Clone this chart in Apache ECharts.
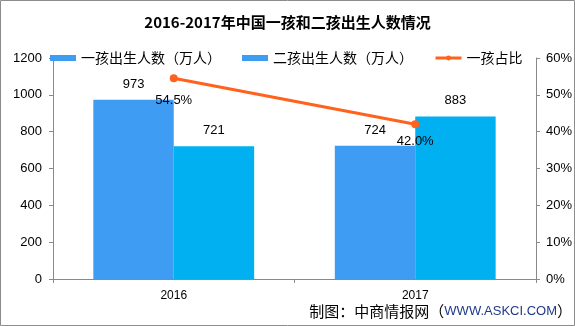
<!DOCTYPE html>
<html>
<head>
<meta charset="utf-8">
<script src="https://cdn.jsdelivr.net/npm/echarts@6/dist/echarts.min.js"></script>
<style>html,body{margin:0;padding:0;background:#fff}#c{width:575px;height:326px}</style>
</head>
<body>
<div id="c"></div>
<script>
const categories = ['2016', '2017'];
const firstChild = [973, 724];
const secondChild = [721, 883];
const firstShare = [54.5, 42.0];
const leftTicks = [0, 200, 400, 600, 800, 1000, 1200];
const rightTicks = [0, 10, 20, 30, 40, 50, 60];

const FONT = '"Liberation Sans", "Noto Sans CJK SC", sans-serif';
const CJK = '"Noto Sans CJK SC", sans-serif';
const C1 = '#3e9df2', C2 = '#00b0f0', C3 = '#ff621d';
const shareLabelDist = [12, 7];

const chart = echarts.init(document.getElementById('c'));
chart.setOption({
  animation: false,
  title: {
    text: '2016-2017年中国一孩和二孩出生人数情况',
    left: 'center', top: 10,
    textStyle: { fontFamily: CJK, fontSize: 15, fontWeight: 'bold', color: '#000' }
  },
  legend: {
    left: 45, top: 46,
    itemWidth: 26, itemHeight: 6, itemGap: 21,
    textStyle: { fontFamily: CJK, fontSize: 14, color: '#000' },
    data: [
      { name: '一孩出生人数（万人）', icon: 'rect', itemStyle: { color: C1 } },
      { name: '二孩出生人数（万人）', icon: 'rect', itemStyle: { color: C1 } },
      { name: '一孩占比', lineStyle: { width: 3, color: C3 }, itemStyle: { color: C3 } }
    ]
  },
  grid: { left: 53, right: 35, top: 58, bottom: 47 },
  xAxis: {
    type: 'category', data: categories,
    axisLine: { lineStyle: { color: '#898989' } },
    axisTick: { show: true, length: 4, lineStyle: { color: '#898989' } },
    axisLabel: { fontFamily: FONT, fontSize: 12, color: '#000', margin: 11 }
  },
  yAxis: [
    {
      type: 'value', min: leftTicks[0], max: leftTicks[leftTicks.length - 1], interval: 200,
      splitLine: { show: false },
      axisLine: { show: true, lineStyle: { color: '#898989' } },
      axisTick: { show: true, length: 4, lineStyle: { color: '#898989' } },
      axisLabel: { fontFamily: FONT, fontSize: 13, color: '#000', margin: 11, formatter: v => String(v) }
    },
    {
      type: 'value', min: rightTicks[0], max: rightTicks[rightTicks.length - 1], interval: 10,
      splitLine: { show: false },
      axisLine: { show: true, lineStyle: { color: '#898989' } },
      axisTick: { show: true, length: 4, lineStyle: { color: '#898989' } },
      axisLabel: { fontFamily: FONT, fontSize: 13, color: '#000', margin: 10, formatter: '{value}%' }
    }
  ],
  series: [
    {
      name: '一孩出生人数（万人）', type: 'bar', data: firstChild,
      barWidth: '33.3%', barGap: '0%',
      itemStyle: { color: C1 },
      label: { show: true, position: 'top', distance: 9, fontFamily: FONT, fontSize: 13, color: '#000' }
    },
    {
      name: '二孩出生人数（万人）', type: 'bar', data: secondChild,
      barWidth: '33.3%', barGap: '0%',
      itemStyle: { color: C2 },
      label: { show: true, position: 'top', distance: 9, fontFamily: FONT, fontSize: 13, color: '#000' }
    },
    {
      name: '一孩占比', type: 'line', yAxisIndex: 1,
      data: firstShare.map((v, i) => ({ value: v, label: { distance: shareLabelDist[i] } })),
      symbol: 'circle', symbolSize: 8,
      lineStyle: { color: C3, width: 3 },
      itemStyle: { color: C3 },
      label: { show: true, position: 'bottom', fontFamily: FONT, fontSize: 13, color: '#000',
        formatter: p => p.value.toFixed(1) + '%' }
    }
  ],
  graphic: [
    { type: 'rect', shape: { x: 0.5, y: 0.5, width: 574, height: 325 },
      style: { fill: 'none', stroke: '#8c8c8c', lineWidth: 1 }, silent: true },
    { type: 'text', right: 3, top: 304,
      style: {
        text: '{a|制图：中商情报网（}{b|WWW.ASKCI.COM}{a|）}',
        rich: {
          a: { fontFamily: CJK, fontSize: 15, fill: '#000' },
          b: { fontFamily: '"Liberation Sans", sans-serif', fontSize: 13, fill: '#1f3a8a' }
        }
      } }
  ]
});
</script>
</body>
</html>
